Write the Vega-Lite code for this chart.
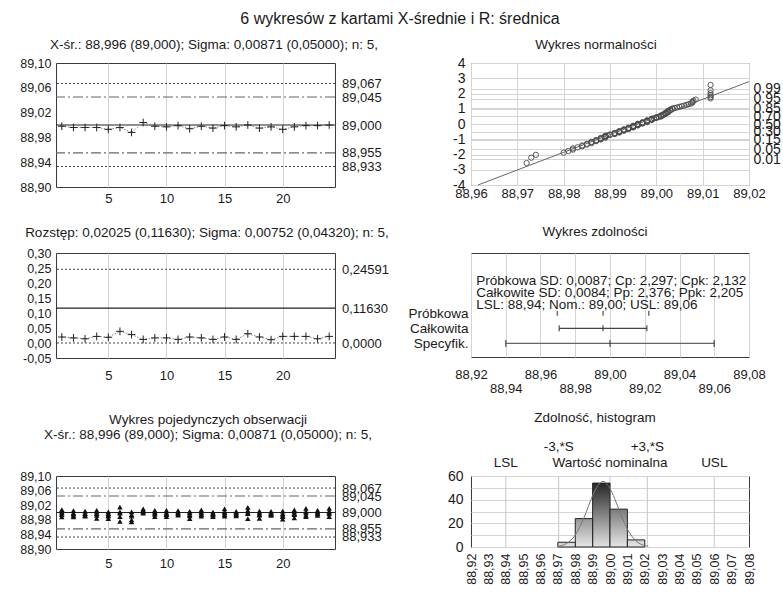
{
  "$schema": "https://vega.github.io/schema/vega-lite/v6.json",
  "background": "white",
  "padding": {"left": 19, "top": 11, "right": 5, "bottom": 0},
  "title": {"text": "6 wykresów z kartami X-średnie i R: średnica", "fontSize": 16, "anchor": "middle", "frame": "bounds", "offset": 10},
  "datasets": {
    "xbar": [{"s":1,"m":88.998},{"s":2,"m":88.996},{"s":3,"m":88.996},{"s":4,"m":88.996},{"s":5,"m":88.993},{"s":6,"m":88.996},{"s":7,"m":88.988},{"s":8,"m":89.004},{"s":9,"m":88.998},{"s":10,"m":88.997},{"s":11,"m":88.999},{"s":12,"m":88.994},{"s":13,"m":88.998},{"s":14,"m":88.995},{"s":15,"m":88.999},{"s":16,"m":88.997},{"s":17,"m":89.000},{"s":18,"m":88.995},{"s":19,"m":88.997},{"s":20,"m":88.993},{"s":21,"m":88.997},{"s":22,"m":88.999},{"s":23,"m":88.999},{"s":24,"m":89.000}],
    "rng": [{"s":1,"r":0.020},{"s":2,"r":0.017},{"s":3,"r":0.014},{"s":4,"r":0.022},{"s":5,"r":0.019},{"s":6,"r":0.039},{"s":7,"r":0.028},{"s":8,"r":0.012},{"s":9,"r":0.017},{"s":10,"r":0.017},{"s":11,"r":0.012},{"s":12,"r":0.020},{"s":13,"r":0.017},{"s":14,"r":0.012},{"s":15,"r":0.020},{"s":16,"r":0.012},{"s":17,"r":0.031},{"s":18,"r":0.020},{"s":19,"r":0.011},{"s":20,"r":0.022},{"s":21,"r":0.022},{"s":22,"r":0.022},{"s":23,"r":0.014},{"s":24,"r":0.022}],
    "obs": [
      {"s":1,"v":89.008},{"s":1,"v":89.002},{"s":1,"v":88.998},{"s":1,"v":88.994},{"s":1,"v":88.988},
      {"s":2,"v":89.005},{"s":2,"v":88.999},{"s":2,"v":88.996},{"s":2,"v":88.992},{"s":2,"v":88.988},
      {"s":3,"v":89.004},{"s":3,"v":88.998},{"s":3,"v":88.996},{"s":3,"v":88.992},{"s":3,"v":88.990},
      {"s":4,"v":89.006},{"s":4,"v":89.001},{"s":4,"v":88.997},{"s":4,"v":88.992},{"s":4,"v":88.984},
      {"s":5,"v":89.002},{"s":5,"v":88.997},{"s":5,"v":88.993},{"s":5,"v":88.990},{"s":5,"v":88.983},
      {"s":6,"v":89.015},{"s":6,"v":89.002},{"s":6,"v":88.998},{"s":6,"v":88.989},{"s":6,"v":88.976},
      {"s":7,"v":89.002},{"s":7,"v":88.994},{"s":7,"v":88.990},{"s":7,"v":88.980},{"s":7,"v":88.974},
      {"s":8,"v":89.010},{"s":8,"v":89.006},{"s":8,"v":89.004},{"s":8,"v":89.002},{"s":8,"v":88.998},
      {"s":9,"v":89.006},{"s":9,"v":89.002},{"s":9,"v":88.998},{"s":9,"v":88.995},{"s":9,"v":88.989},
      {"s":10,"v":89.006},{"s":10,"v":89.000},{"s":10,"v":88.996},{"s":10,"v":88.994},{"s":10,"v":88.989},
      {"s":11,"v":89.005},{"s":11,"v":89.002},{"s":11,"v":88.999},{"s":11,"v":88.996},{"s":11,"v":88.993},
      {"s":12,"v":89.003},{"s":12,"v":88.999},{"s":12,"v":88.994},{"s":12,"v":88.991},{"s":12,"v":88.983},
      {"s":13,"v":89.007},{"s":13,"v":89.001},{"s":13,"v":88.998},{"s":13,"v":88.994},{"s":13,"v":88.990},
      {"s":14,"v":89.001},{"s":14,"v":88.997},{"s":14,"v":88.995},{"s":14,"v":88.993},{"s":14,"v":88.989},
      {"s":15,"v":89.010},{"s":15,"v":89.002},{"s":15,"v":88.999},{"s":15,"v":88.994},{"s":15,"v":88.990},
      {"s":16,"v":89.003},{"s":16,"v":89.000},{"s":16,"v":88.996},{"s":16,"v":88.995},{"s":16,"v":88.991},
      {"s":17,"v":89.014},{"s":17,"v":89.006},{"s":17,"v":89.000},{"s":17,"v":88.997},{"s":17,"v":88.983},
      {"s":18,"v":89.004},{"s":18,"v":88.999},{"s":18,"v":88.995},{"s":18,"v":88.993},{"s":18,"v":88.984},
      {"s":19,"v":89.003},{"s":19,"v":88.999},{"s":19,"v":88.997},{"s":19,"v":88.994},{"s":19,"v":88.992},
      {"s":20,"v":89.004},{"s":20,"v":88.997},{"s":20,"v":88.993},{"s":20,"v":88.989},{"s":20,"v":88.982},
      {"s":21,"v":89.007},{"s":21,"v":89.002},{"s":21,"v":88.997},{"s":21,"v":88.994},{"s":21,"v":88.985},
      {"s":22,"v":89.011},{"s":22,"v":89.003},{"s":22,"v":88.999},{"s":22,"v":88.993},{"s":22,"v":88.989},
      {"s":23,"v":89.006},{"s":23,"v":89.002},{"s":23,"v":88.999},{"s":23,"v":88.996},{"s":23,"v":88.992},
      {"s":24,"v":89.011},{"s":24,"v":89.004},{"s":24,"v":89.000},{"s":24,"v":88.996},{"s":24,"v":88.989}
    ],
    "limX": [{"lim":"UCL","v":89.067},{"lim":"UWL","v":89.045},{"lim":"CL","v":89.000},{"lim":"LWL","v":88.955},{"lim":"LCL","v":88.933}],
    "limR": [{"lim":"UCL","v":0.24591},{"lim":"CL","v":0.1163},{"lim":"LCL","v":0.0}],
    "npp": [
      {"x":88.972,"z":-2.56},{"x":88.973,"z":-2.21},{"x":88.974,"z":-2.02},{"x":88.980,"z":-1.88},{"x":88.981,"z":-1.77},
      {"x":88.982,"z":-1.68},{"x":88.982,"z":-1.60},{"x":88.983,"z":-1.53},{"x":88.984,"z":-1.46},{"x":88.984,"z":-1.405},
      {"x":88.985,"z":-1.35},{"x":88.985,"z":-1.30},{"x":88.986,"z":-1.254},{"x":88.986,"z":-1.21},{"x":88.986,"z":-1.167},
      {"x":88.987,"z":-1.126},{"x":88.987,"z":-1.088},{"x":88.987,"z":-1.051},{"x":88.988,"z":-1.015},{"x":88.988,"z":-0.981},
      {"x":88.988,"z":-0.948},{"x":88.988,"z":-0.916},{"x":88.989,"z":-0.885},{"x":88.989,"z":-0.854},{"x":88.989,"z":-0.825},
      {"x":88.989,"z":-0.796},{"x":88.989,"z":-0.767},{"x":88.9895,"z":-0.740},{"x":88.990,"z":-0.713},{"x":88.990,"z":-0.686},
      {"x":88.991,"z":-0.660},{"x":88.991,"z":-0.634},{"x":88.991,"z":-0.609},{"x":88.991,"z":-0.584},{"x":88.992,"z":-0.559},
      {"x":88.992,"z":-0.535},{"x":88.992,"z":-0.511},{"x":88.992,"z":-0.488},{"x":88.992,"z":-0.464},{"x":88.993,"z":-0.441},
      {"x":88.993,"z":-0.418},{"x":88.993,"z":-0.396},{"x":88.993,"z":-0.373},{"x":88.993,"z":-0.351},{"x":88.994,"z":-0.329},
      {"x":88.994,"z":-0.307},{"x":88.994,"z":-0.285},{"x":88.994,"z":-0.264},{"x":88.994,"z":-0.242},{"x":88.995,"z":-0.221},
      {"x":88.995,"z":-0.199},{"x":88.995,"z":-0.178},{"x":88.995,"z":-0.157},{"x":88.995,"z":-0.136},{"x":88.995,"z":-0.115},
      {"x":88.996,"z":-0.094},{"x":88.996,"z":-0.073},{"x":88.996,"z":-0.052},{"x":88.996,"z":-0.031},{"x":88.996,"z":-0.010},
      {"x":88.996,"z":0.010},{"x":88.997,"z":0.031},{"x":88.997,"z":0.052},{"x":88.997,"z":0.073},{"x":88.997,"z":0.094},
      {"x":88.997,"z":0.115},{"x":88.998,"z":0.136},{"x":88.998,"z":0.157},{"x":88.998,"z":0.178},{"x":88.998,"z":0.199},
      {"x":88.998,"z":0.221},{"x":88.998,"z":0.242},{"x":88.999,"z":0.264},{"x":88.999,"z":0.285},{"x":88.999,"z":0.307},
      {"x":88.999,"z":0.329},{"x":88.999,"z":0.351},{"x":88.9995,"z":0.373},{"x":89.000,"z":0.396},{"x":89.000,"z":0.418},
      {"x":89.000,"z":0.441},{"x":89.0005,"z":0.464},{"x":89.001,"z":0.488},{"x":89.001,"z":0.511},{"x":89.001,"z":0.535},
      {"x":89.001,"z":0.559},{"x":89.0015,"z":0.584},{"x":89.0015,"z":0.609},{"x":89.0015,"z":0.634},{"x":89.002,"z":0.660},
      {"x":89.002,"z":0.686},{"x":89.002,"z":0.713},{"x":89.002,"z":0.740},{"x":89.0025,"z":0.767},{"x":89.0025,"z":0.796},
      {"x":89.0025,"z":0.825},{"x":89.0025,"z":0.854},{"x":89.003,"z":0.885},{"x":89.003,"z":0.916},{"x":89.003,"z":0.948},
      {"x":89.0035,"z":0.981},{"x":89.0035,"z":1.015},{"x":89.004,"z":1.051},{"x":89.0045,"z":1.088},{"x":89.005,"z":1.126},
      {"x":89.0055,"z":1.167},{"x":89.006,"z":1.21},{"x":89.0065,"z":1.254},{"x":89.007,"z":1.30},{"x":89.0075,"z":1.35},
      {"x":89.0078,"z":1.405},{"x":89.0078,"z":1.46},{"x":89.008,"z":1.53},{"x":89.0085,"z":1.60},{"x":89.0117,"z":1.68},
      {"x":89.0117,"z":1.77},{"x":89.0117,"z":1.88},{"x":89.0117,"z":2.02},{"x":89.0117,"z":2.21},{"x":89.0117,"z":2.56}
    ],
    "nline": [{"x":88.9615,"z":-4},{"x":89.02,"z":2.78}],
    "cap": [{"k":2,"name":"Całkowita","lo":88.9708,"hi":89.0212},{"k":1,"name":"Specyfik.","lo":88.94,"hi":89.06}],
    "capTicks": [{"k":3,"name":"Próbkowa","v":88.9697},{"k":3,"name":"Próbkowa","v":88.996},{"k":3,"name":"Próbkowa","v":89.0223},{"k":2,"name":"Całkowita","v":88.9708},{"k":2,"name":"Całkowita","v":88.996},{"k":2,"name":"Całkowita","v":89.0212},{"k":1,"name":"Specyfik.","v":88.94},{"k":1,"name":"Specyfik.","v":89.0},{"k":1,"name":"Specyfik.","v":89.06}],
    "hist": [{"lo":88.97,"hi":88.98,"n":4},{"lo":88.98,"hi":88.99,"n":24},{"lo":88.99,"hi":89.0,"n":54},{"lo":89.0,"hi":89.01,"n":32},{"lo":89.01,"hi":89.02,"n":6}],
    "curve": [{"x":88.970,"y":0.6},{"x":88.975,"y":3.0},{"x":88.980,"y":10.1},{"x":88.985,"y":24.7},{"x":88.990,"y":43.4},{"x":88.993,"y":51.8},{"x":88.996,"y":55.5},{"x":88.999,"y":51.8},{"x":89.002,"y":43.4},{"x":89.005,"y":32.2},{"x":89.010,"y":15.1},{"x":89.015,"y":5.1},{"x":89.020,"y":1.2},{"x":89.022,"y":0.6}],
    "hmarks": [{"x":88.94,"label":"LSL","grp":"spec"},{"x":89.0,"label":"Wartość nominalna","grp":"spec"},{"x":89.06,"label":"USL","grp":"spec"},{"x":88.9705,"label":"-3,*S","grp":"sig"},{"x":89.0215,"label":"+3,*S","grp":"sig"}]
  },
  "columns": 2,
  "bounds": "flush",
  "align": "each",
  "spacing": {"row": 0, "column": 136},
  "concat": [
    {
      "width": 279, "height": 124,
      "title": {"text": "X-śr.: 88,996 (89,000); Sigma: 0,00871 (0,05000); n: 5,", "dx": 18.5, "offset": 6},
      "layer": [
        {
          "data": {"name": "limX"},
          "mark": {"type": "rule"},
          "encoding": {
            "y": {"field": "v", "type": "quantitative", "scale": {"domain": [88.9, 89.1], "nice": false, "zero": false},
                  "axis": {"orient": "left", "title": null, "values": [88.9, 88.94, 88.98, 89.02, 89.06, 89.1], "tickCount": 100, "labelExpr": "replace(format(datum.value, '.2f'), '.', ',')", "labelFontSize": 12.5, "labelPadding": 5, "labelOverlap": false}},
            "strokeDash": {"field": "lim", "type": "nominal", "scale": {"domain": ["UCL","UWL","CL","LWL","LCL"], "range": [[2,2],[10,3,2,3],[1,0],[10,3,2,3],[2,2]]}, "legend": null},
            "color": {"field": "lim", "type": "nominal", "scale": {"domain": ["UCL","UWL","CL","LWL","LCL"], "range": ["#444","#666","#222","#666","#444"]}, "legend": null},
            "strokeWidth": {"field": "lim", "type": "nominal", "scale": {"domain": ["UCL","UWL","CL","LWL","LCL"], "range": [1,1.2,1.5,1.2,1]}, "legend": null}
          }
        },
        {
          "data": {"name": "xbar"},
          "mark": {"type": "line", "color": "#888", "strokeDash": [1.5, 1.5], "strokeWidth": 1},
          "encoding": {
            "x": {"field": "s", "type": "quantitative", "scale": {"domain": [0.5, 24.5], "nice": false, "zero": false},
                  "axis": {"title": null, "values": [5, 10, 15, 20], "tickCount": 100, "format": "d", "grid": true, "labelPadding": 5.4, "labelOverlap": false}},
            "y": {"field": "m", "type": "quantitative",
                  "axis": {"orient": "right", "title": null, "values": [88.933, 88.955, 89.0, 89.045, 89.067], "tickCount": 100, "labelExpr": "replace(format(datum.value, '.3f'), '.', ',')", "labelPadding": 6.5, "labelOverlap": false}}
          }
        },
        {
          "data": {"name": "xbar"},
          "mark": {"type": "point", "shape": "M-1,0H1M0,-1V1", "size": 60, "filled": false, "color": "#222", "strokeWidth": 1, "opacity": 1},
          "encoding": {
            "x": {"field": "s", "type": "quantitative"},
            "y": {"field": "m", "type": "quantitative", "axis": null}
          }
        }
      ],
      "resolve": {"axis": {"y": "independent"}}
    },
    {
      "width": 278, "height": 122,
      "title": {"text": "Wykres normalności", "dx": -14, "offset": 4.5},
      "layer": [
        {
          "data": {"name": "npp"},
          "mark": {"type": "point", "shape": "circle", "size": 28, "filled": false, "color": "#4a4a4a", "strokeWidth": 1, "opacity": 0.9},
          "encoding": {
            "x": {"field": "x", "type": "quantitative", "scale": {"domain": [88.96, 89.02], "nice": false, "zero": false},
                  "axis": {"title": null, "values": [88.96, 88.97, 88.98, 88.99, 89.0, 89.01, 89.02], "tickCount": 100, "grid": true, "labelExpr": "replace(format(datum.value, '.2f'), '.', ',')", "labelPadding": 2.4, "labelOverlap": false}},
            "y": {"field": "z", "type": "quantitative", "scale": {"domain": [-4, 4], "nice": false, "zero": false},
                  "axis": {"orient": "left", "title": null, "values": [-4, -3, -2, -1, 0, 1, 2, 3, 4], "tickCount": 100, "grid": true, "labelFontSize": 14, "labelPadding": 6, "labelOverlap": false, "labelExpr": "replace(format(datum.value, 'd'), '\u2212', '-')"}}
          }
        },
        {
          "data": {"name": "nline"},
          "mark": {"type": "line", "color": "#666", "strokeWidth": 1},
          "encoding": {
            "x": {"field": "x", "type": "quantitative"},
            "y": {"field": "z", "type": "quantitative",
                  "axis": {"orient": "right", "title": null, "values": [-2.326, -1.645, -1.036, -0.524, 0, 0.524, 1.036, 1.645, 2.326], "tickCount": 100, "grid": true, "labelFontSize": 14, "labelPadding": 4, "labelOverlap": false, "labelExpr": "format(cumulativeNormal(datum.value), '.2f')"}}
          }
        }
      ],
      "resolve": {"axis": {"y": "independent"}}
    },
    {"width": 279, "height": 66, "view": {"stroke": null}, "data": {"values": [{"a": 1}]}, "mark": {"type": "point", "opacity": 0}, "encoding": {}},
    {"width": 278, "height": 66, "view": {"stroke": null}, "data": {"values": [{"a": 1}]}, "mark": {"type": "point", "opacity": 0}, "encoding": {}},
    {
      "width": 279, "height": 105,
      "title": {"text": "Rozstęp: 0,02025 (0,11630); Sigma: 0,00752 (0,04320); n: 5,", "dx": 11.5, "offset": 8},
      "layer": [
        {
          "data": {"name": "limR"},
          "mark": {"type": "rule"},
          "encoding": {
            "y": {"field": "v", "type": "quantitative", "scale": {"domain": [-0.05, 0.3], "nice": false, "zero": false},
                  "axis": {"orient": "left", "title": null, "values": [-0.05, 0, 0.05, 0.1, 0.15, 0.2, 0.25, 0.3], "tickCount": 100, "labelExpr": "replace(replace(format(datum.value, '.2f'), '.', ','), '\u2212', '-')", "labelFontSize": 12.5, "labelPadding": 5, "labelOverlap": false}},
            "strokeDash": {"field": "lim", "type": "nominal", "scale": {"domain": ["UCL","CL","LCL"], "range": [[2,2],[1,0],[2,2]]}, "legend": null},
            "color": {"field": "lim", "type": "nominal", "scale": {"domain": ["UCL","CL","LCL"], "range": ["#444","#808080","#444"]}, "legend": null},
            "strokeWidth": {"field": "lim", "type": "nominal", "scale": {"domain": ["UCL","CL","LCL"], "range": [1,2.5,1]}, "legend": null}
          }
        },
        {
          "data": {"name": "rng"},
          "mark": {"type": "line", "color": "#888", "strokeDash": [1.5, 1.5], "strokeWidth": 1},
          "encoding": {
            "x": {"field": "s", "type": "quantitative", "scale": {"domain": [0.5, 24.5], "nice": false, "zero": false},
                  "axis": {"title": null, "values": [5, 10, 15, 20], "tickCount": 100, "format": "d", "grid": true, "labelPadding": 11.4, "labelOverlap": false}},
            "y": {"field": "r", "type": "quantitative",
                  "axis": {"orient": "right", "title": null, "values": [0, 0.1163, 0.24591], "tickCount": 100, "labelExpr": "datum.value > 0.2 ? '0,24591' : datum.value > 0.1 ? '0,11630' : '0,0000'", "labelPadding": 6.5, "labelOverlap": false}}
          }
        },
        {
          "data": {"name": "rng"},
          "mark": {"type": "point", "shape": "M-1,0H1M0,-1V1", "size": 60, "filled": false, "color": "#222", "strokeWidth": 1, "opacity": 1},
          "encoding": {
            "x": {"field": "s", "type": "quantitative"},
            "y": {"field": "r", "type": "quantitative", "axis": null}
          }
        }
      ],
      "resolve": {"axis": {"y": "independent"}}
    },
    {
      "width": 278, "height": 104,
      "title": {"text": "Wykres zdolności", "dx": -15, "offset": 15},
      "layer": [
        {
          "data": {"name": "cap"},
          "mark": {"type": "rule"},
          "encoding": {
            "x": {"field": "lo", "type": "quantitative", "scale": {"domain": [88.92, 89.08], "nice": false, "zero": false},
                  "axis": {"title": null, "values": [88.92, 88.94, 88.96, 88.98, 89.0, 89.02, 89.04, 89.06, 89.08], "tickCount": 100, "grid": true, "labelOverlap": false, "labelExpr": "replace(format(datum.value, '.2f'), '.', ',')",
                           "labelPadding": {"condition": {"test": "round(datum.value * 100) % 4 != 0", "value": 25.4}, "value": 11.4}}},
            "x2": {"field": "hi"},
            "y": {"field": "k", "type": "quantitative", "scale": {"domain": [0.1, 7], "nice": false, "zero": false},
                  "axis": {"orient": "left", "title": null, "values": [1, 2, 3], "tickCount": 100, "labelFontSize": 13.5, "labelPadding": 3, "labelOverlap": false, "labelExpr": "datum.value == 3 ? 'Próbkowa' : datum.value == 2 ? 'Całkowita' : 'Specyfik.'"}},
            "strokeWidth": {"field": "name", "type": "nominal", "scale": {"domain": ["Całkowita", "Specyfik."], "range": [1, 2]}, "legend": null},
            "color": {"field": "name", "type": "nominal", "scale": {"domain": ["Całkowita", "Specyfik."], "range": ["#555", "#333"]}, "legend": null}
          }
        },
        {
          "data": {"name": "capTicks"},
          "mark": {"type": "tick", "orient": "vertical", "thickness": 1.5, "color": "#333"},
          "encoding": {
            "x": {"field": "v", "type": "quantitative"},
            "y": {"field": "k", "type": "quantitative"},
            "size": {"field": "name", "type": "nominal", "scale": {"domain": ["Próbkowa", "Całkowita", "Specyfik."], "range": [5, 7, 9]}, "legend": null}
          }
        },
        {
          "data": {"values": [{"a": 1}]},
          "mark": {"type": "text", "text": ["Próbkowa SD: 0,0087; Cp: 2,297; Cpk: 2,132", "Całkowite SD: 0,0084; Pp: 2,376; Ppk: 2,205", "LSL: 88,94; Nom.: 89,00; USL: 89,06"], "align": "left", "baseline": "top", "lineHeight": 11.7, "fontSize": 13.5},
          "encoding": {
            "x": {"datum": 88.923, "type": "quantitative"},
            "y": {"datum": 5.59, "type": "quantitative"}
          }
        }
      ]
    },
    {"width": 279, "height": 118, "view": {"stroke": null}, "data": {"values": [{"a": 1}]}, "mark": {"type": "point", "opacity": 0}, "encoding": {}},
    {"width": 278, "height": 118, "view": {"stroke": null}, "data": {"values": [{"a": 1}]}, "mark": {"type": "point", "opacity": 0}, "encoding": {}},
    {
      "width": 279, "height": 73,
      "title": {"text": ["Wykres pojedynczych obserwacji", "X-śr.: 88,996 (89,000); Sigma: 0,00871 (0,05000); n: 5,"], "dx": 12.5, "offset": 29, "lineHeight": 15},
      "layer": [
        {
          "data": {"name": "limX"},
          "mark": {"type": "rule"},
          "encoding": {
            "y": {"field": "v", "type": "quantitative", "scale": {"domain": [88.9, 89.1], "nice": false, "zero": false},
                  "axis": {"orient": "left", "title": null, "values": [88.9, 88.94, 88.98, 89.02, 89.06, 89.1], "tickCount": 100, "labelExpr": "replace(format(datum.value, '.2f'), '.', ',')", "labelFontSize": 12.5, "labelPadding": 5, "labelOverlap": false}},
            "strokeDash": {"field": "lim", "type": "nominal", "scale": {"domain": ["UCL","UWL","CL","LWL","LCL"], "range": [[2,2],[10,3,2,3],[1,0],[10,3,2,3],[2,2]]}, "legend": null},
            "color": {"field": "lim", "type": "nominal", "scale": {"domain": ["UCL","UWL","CL","LWL","LCL"], "range": ["#444","#666","#222","#666","#444"]}, "legend": null},
            "strokeWidth": {"field": "lim", "type": "nominal", "scale": {"domain": ["UCL","UWL","CL","LWL","LCL"], "range": [1,1.2,1.5,1.2,1]}, "legend": null}
          }
        },
        {
          "data": {"name": "obs"},
          "mark": {"type": "point", "shape": "triangle-up", "size": 30, "filled": true, "color": "#111", "opacity": 1},
          "encoding": {
            "x": {"field": "s", "type": "quantitative", "scale": {"domain": [0.5, 24.5], "nice": false, "zero": false},
                  "axis": {"title": null, "values": [5, 10, 15, 20], "tickCount": 100, "format": "d", "grid": true, "labelPadding": 8.4, "labelOverlap": false}},
            "y": {"field": "v", "type": "quantitative",
                  "axis": {"orient": "right", "title": null, "values": [88.933, 88.955, 89.0, 89.045, 89.067], "tickCount": 100, "labelExpr": "replace(format(datum.value, '.3f'), '.', ',')", "labelPadding": 6.5, "labelOverlap": false}}
          }
        }
      ],
      "resolve": {"axis": {"y": "independent"}}
    },
    {
      "width": 278, "height": 71,
      "title": {"text": "Zdolność, histogram", "dx": -15, "offset": 16},
      "layer": [
        {
          "data": {"name": "hmarks"},
          "mark": {"type": "rule", "color": "#c8c8c8"},
          "encoding": {
            "x": {"field": "x", "type": "quantitative", "scale": {"domain": [88.92, 89.08], "nice": false, "zero": false},
                  "axis": {"title": null, "values": [88.92, 88.93, 88.94, 88.95, 88.96, 88.97, 88.98, 88.99, 89.0, 89.01, 89.02, 89.03, 89.04, 89.05, 89.06, 89.07, 89.08], "tickCount": 100, "labelAngle": 270, "labelFontSize": 12.5, "labelPadding": 6, "labelOverlap": false, "labelExpr": "replace(format(datum.value, '.2f'), '.', ',')"}}
          }
        },
        {
          "data": {"name": "hist"},
          "transform": [{"filter": "datum.n > 50"}],
          "mark": {"type": "bar", "stroke": "#222", "strokeWidth": 1, "color": {"gradient": "linear", "x1": 0, "y1": 0, "x2": 0, "y2": 1, "stops": [{"offset": 0, "color": "#262626"}, {"offset": 1, "color": "#e2e2e2"}]}},
          "encoding": {
            "x": {"field": "lo", "type": "quantitative"},
            "x2": {"field": "hi"},
            "y": {"field": "n", "type": "quantitative", "scale": {"domain": [0, 60], "nice": false, "zero": true, "padding": 0},
                  "axis": {"title": null, "values": [0, 10, 20, 30, 40, 50, 60], "tickCount": 100, "grid": true, "labelFontSize": 14, "labelPadding": 8, "labelOverlap": false, "labelExpr": "datum.value % 20 == 0 ? format(datum.value, 'd') : ''"}},
            "y2": {"datum": 0}
          }
        },
        {
          "data": {"name": "hist"},
          "transform": [{"filter": "datum.n > 28 && datum.n < 50"}],
          "mark": {"type": "bar", "stroke": "#222", "strokeWidth": 1, "color": {"gradient": "linear", "x1": 0, "y1": 0, "x2": 0, "y2": 1, "stops": [{"offset": 0, "color": "#7b7b7b"}, {"offset": 1, "color": "#e6e6e6"}]}},
          "encoding": {"x": {"field": "lo", "type": "quantitative"}, "x2": {"field": "hi"}, "y": {"field": "n", "type": "quantitative"}, "y2": {"datum": 0}}
        },
        {
          "data": {"name": "hist"},
          "transform": [{"filter": "datum.n > 10 && datum.n <= 28"}],
          "mark": {"type": "bar", "stroke": "#222", "strokeWidth": 1, "color": {"gradient": "linear", "x1": 0, "y1": 0, "x2": 0, "y2": 1, "stops": [{"offset": 0, "color": "#969696"}, {"offset": 1, "color": "#e6e6e6"}]}},
          "encoding": {"x": {"field": "lo", "type": "quantitative"}, "x2": {"field": "hi"}, "y": {"field": "n", "type": "quantitative"}, "y2": {"datum": 0}}
        },
        {
          "data": {"name": "hist"},
          "transform": [{"filter": "datum.n <= 10"}],
          "mark": {"type": "bar", "stroke": "#222", "strokeWidth": 1, "color": {"gradient": "linear", "x1": 0, "y1": 0, "x2": 0, "y2": 1, "stops": [{"offset": 0, "color": "#d2d2d2"}, {"offset": 1, "color": "#e6e6e6"}]}},
          "encoding": {"x": {"field": "lo", "type": "quantitative"}, "x2": {"field": "hi"}, "y": {"field": "n", "type": "quantitative"}, "y2": {"datum": 0}}
        },
        {
          "data": {"name": "curve"},
          "mark": {"type": "line", "color": "#777", "strokeWidth": 1, "interpolate": "monotone"},
          "encoding": {"x": {"field": "x", "type": "quantitative"}, "y": {"field": "y", "type": "quantitative"}}
        },
        {
          "data": {"name": "hmarks"},
          "transform": [{"filter": "datum.grp == 'spec'"}],
          "mark": {"type": "text", "baseline": "middle", "align": "center", "fontSize": 13.5},
          "encoding": {"x": {"field": "x", "type": "quantitative"}, "y": {"datum": 71, "type": "quantitative"}, "text": {"field": "label"}}
        },
        {
          "data": {"name": "hmarks"},
          "transform": [{"filter": "datum.grp == 'sig'"}],
          "mark": {"type": "text", "baseline": "middle", "align": "center", "fontSize": 13.5},
          "encoding": {"x": {"field": "x", "type": "quantitative"}, "y": {"datum": 84.5, "type": "quantitative"}, "text": {"field": "label"}}
        }
      ]
    }
  ],
  "config": {
    "font": "Liberation Sans",
    "view": {"stroke": "#3a3a3a", "strokeWidth": 1},
    "axis": {"labelFont": "Liberation Sans", "labelFontSize": 13, "labelColor": "#1a1a1a", "domain": false, "ticks": false, "grid": false, "gridColor": "#d4d4d4", "gridWidth": 1, "labelOverlap": false, "labelFlush": false, "labelBound": false},
    "title": {"font": "Liberation Sans", "fontSize": 13.5, "fontWeight": "normal", "color": "#1a1a1a", "anchor": "middle", "frame": "group", "baseline": "bottom"},
    "text": {"font": "Liberation Sans", "fontSize": 13.5, "color": "#1a1a1a"}
  }
}
